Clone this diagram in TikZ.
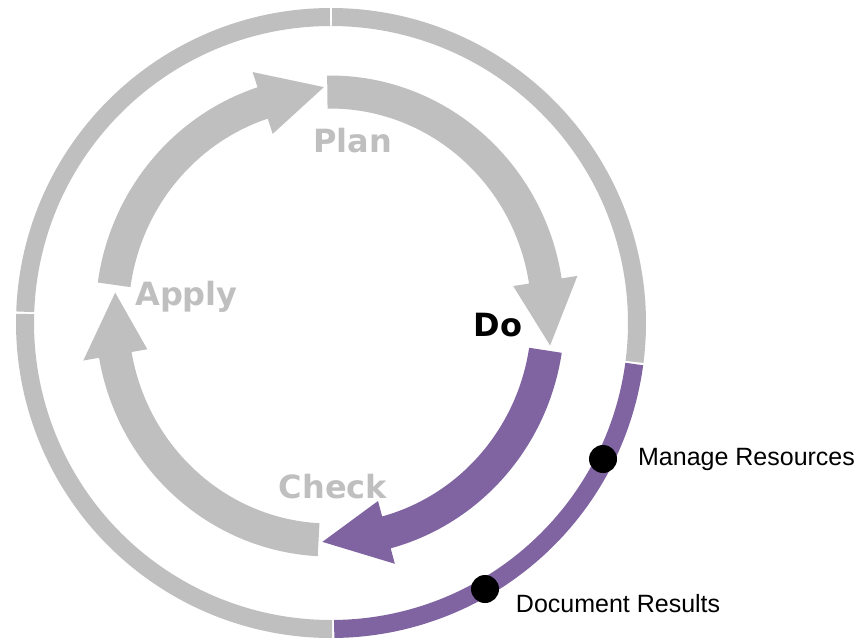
\documentclass[tikz,border=0pt]{standalone}
\usepackage{fontspec}
\setmainfont{Liberation Sans}
\newfontfamily\stagefont{DejaVu Sans}
\usetikzlibrary{positioning}
\definecolor{cyclegray}{HTML}{BFBFBF}
\definecolor{cyclepurple}{HTML}{8064A2}

\begin{document}
\begin{tikzpicture}[x=1pt,y=1pt,yscale=-1,xscale=1,
  ring/.style={line width=18pt},
  stage/.style={font=\stagefont\bfseries\fontsize{32}{38}\selectfont, inner sep=0.75pt},
  milestone/.style={circle, fill=black, minimum size=28pt, inner sep=0pt},
  note/.style={font=\fontsize{25}{30}\selectfont, inner sep=0.75pt}]
\useasboundingbox (0,0) rectangle (866,638);

%Arc: outer ring, top right
\draw [ring, cyclegray] (331,323) ++(-89.8:306) arc[start angle=-89.8, end angle=7.3, radius=306];
%Arc: outer ring, top left
\draw [ring, cyclegray] (331,323) ++(-177.9:306) arc[start angle=-177.9, end angle=-90.2, radius=306];
%Arc: outer ring, bottom left
\draw [ring, cyclegray] (331,323) ++(89.8:306) arc[start angle=89.8, end angle=181.7, radius=306];
%Arc: outer ring, bottom right
\draw [ring, cyclepurple] (331,323) ++(7.7:306) arc[start angle=7.7, end angle=89.4, radius=306];

\begin{scope}[shift={(330,316)}]
%Shape: Circular Arrow (plan)
\fill [cyclegray] (-90.7:234.5 and 240.5) arc[start angle=-90.7, end angle=-9, x radius=234.5, y radius=240.5] -- (-9:250.5 and 256.5) -- (7.5:222 and 226) -- (-9:185.5 and 191.5) -- (-9:201.5 and 207.5) arc[start angle=-9, end angle=-90.7, x radius=201.5, y radius=207.5] -- cycle;
%Shape: Circular Arrow (do)
\fill [cyclepurple] (8.8:234.5 and 240.5) arc[start angle=8.8, end angle=75, x radius=234.5, y radius=240.5] -- (75:250.5 and 256.5) -- (92:218 and 226) -- (75:185.5 and 191.5) -- (75:201.5 and 207.5) arc[start angle=75, end angle=8.8, x radius=201.5, y radius=207.5] -- cycle;
%Shape: Circular Arrow (check)
\fill [cyclegray] (93:234.5 and 240.5) arc[start angle=93, end angle=170, x radius=234.5, y radius=240.5] -- (170:250.5 and 256.5) -- (186:216 and 224) -- (170:185.5 and 191.5) -- (170:201.5 and 207.5) arc[start angle=170, end angle=93, x radius=201.5, y radius=207.5] -- cycle;
%Shape: Circular Arrow (apply)
\fill [cyclegray] (188:234.5 and 240.5) arc[start angle=188, end angle=252, x radius=234.5, y radius=240.5] -- (252:250.5 and 256.5) -- (268.4:218 and 229) -- (252:185.5 and 191.5) -- (252:201.5 and 207.5) arc[start angle=252, end angle=188, x radius=201.5, y radius=207.5] -- cycle;
\end{scope}

% Text Node
\node (plan) [stage, text=cyclegray, anchor=base] at (352.5,152) {Plan};
% Text Node
\node (do) [stage, anchor=base] at (498,336) {Do};
% Text Node
\node (check) [stage, text=cyclegray, anchor=base] at (333,498) {Check};
% Text Node
\node (apply) [stage, text=cyclegray, anchor=base] at (186.5,305) {Apply};

%Shape: Circle
\node (dotres) [milestone] at (603,459) {};
%Shape: Circle
\node (dotdoc) [milestone] at (485,589) {};
% Text Node
\node (mres) [note, right=20pt of dotres] {Manage Resources};
% Text Node
\node (docres) [note, anchor=base west] at (515,612) {Document Results};

\end{tikzpicture}
\end{document}
